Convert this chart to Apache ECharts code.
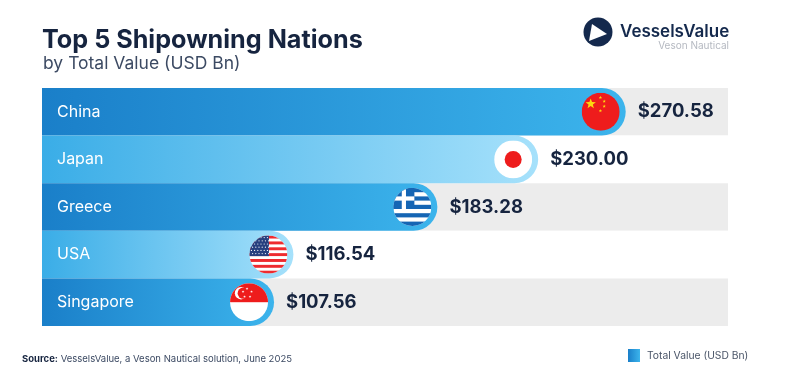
<!DOCTYPE html>
<html>
<head>
<meta charset="utf-8">
<title>Top 5 Shipowning Nations</title>
<style>
  html, body { margin: 0; padding: 0; background: #fff; }
  #chart { width: 794px; height: 379px; }
</style>
<script src="https://cdn.jsdelivr.net/npm/echarts@6/dist/echarts.min.js"></script>
</head>
<body>
<div id="chart"></div>
<script>
"use strict"

// chart data
const categories = ["China", "Japan", "Greece", "USA", "Singapore"];
const totalValue = [270.58, 230.00, 183.28, 116.54, 107.56];
const axisMax = 318;

// colours
const navy = "#16243f";
const darkGradient = ["#1a7fc9", "#3cb4ec"];
const lightGradient = ["#3aade7", "#a6e1fb"];

function gradient(stops) {
    return new echarts.graphic.LinearGradient(0, 0, 1, 0, [
        { offset: 0, color: stops[0] },
        { offset: 1, color: stops[1] }
    ]);
}

// flags are small svgs clipped to a circle
function flagSvg(body) {
    let svg = '<svg xmlns="http://www.w3.org/2000/svg" width="38" height="38" viewBox="0 0 38 38">' +
        '<defs><clipPath id="c"><circle cx="19" cy="19" r="19"/></clipPath></defs>' +
        '<g clip-path="url(#c)">' + body + '</g></svg>';
    return "data:image/svg+xml;charset=utf-8," + encodeURIComponent(svg);
}

function star(cx, cy, r, fill) {
    let pts = [];
    for (let i = 0; i < 10; i++) {
        let a = -Math.PI / 2 + i * Math.PI / 5;
        let d = i % 2 ? r * 0.42 : r;
        pts.push((cx + d * Math.cos(a)).toFixed(2) + "," + (cy + d * Math.sin(a)).toFixed(2));
    }
    return '<polygon points="' + pts.join(" ") + '" fill="' + fill + '"/>';
}

function usFlag() {
    let s = '<rect width="38" height="38" fill="#fff"/>';
    for (let i = 0; i < 7; i++) {
        s += '<rect y="' + (i * 5.85) + '" width="38" height="2.93" fill="#ee2b2f"/>';
    }
    s += '<rect width="19.5" height="20.5" fill="#27407f"/>';
    for (let r = 0; r < 6; r++) {
        for (let c = 0; c < 6; c++) {
            s += '<circle cx="' + (2 + c * 3.2 + (r % 2) * 1.2) + '" cy="' + (2 + r * 3.2) + '" r="0.6" fill="#fff"/>';
        }
    }
    return s;
}

const flags = [
    flagSvg('<rect width="38" height="38" fill="#ee1c1c"/>' + star(9, 11, 5.4, "#fbd90f") +
        star(18.7, 4.7, 1.8, "#fbd90f") + star(22.5, 8.5, 1.8, "#fbd90f") + star(22.5, 13.5, 1.8, "#fbd90f") + star(18.7, 18, 1.8, "#fbd90f")),
    flagSvg('<rect width="38" height="38" fill="#fff"/><circle cx="19" cy="19" r="8.5" fill="#ee1c1c"/>'),
    flagSvg('<rect width="38" height="38" fill="#fff"/>' +
        '<rect y="0" width="38" height="4.2" fill="#1565b4"/><rect y="8.4" width="38" height="4.2" fill="#1565b4"/>' +
        '<rect y="16.8" width="38" height="4.2" fill="#1565b4"/><rect y="25.2" width="38" height="4.2" fill="#1565b4"/>' +
        '<rect y="33.6" width="38" height="4.4" fill="#1565b4"/><rect width="21" height="21" fill="#1565b4"/>' +
        '<rect x="8.4" width="4.2" height="21" fill="#fff"/><rect y="8.4" width="21" height="4.2" fill="#fff"/>'),
    flagSvg(usFlag()),
    flagSvg('<rect width="38" height="38" fill="#fff"/><rect width="38" height="19" fill="#ee1c1c"/>' +
        '<circle cx="11" cy="10" r="6.2" fill="#fff"/><circle cx="13.2" cy="10" r="5.6" fill="#ee1c1c"/>' +
        star(17, 5.5, 1.4, "#fff") + star(21.5, 8.5, 1.4, "#fff") + star(20, 13.5, 1.4, "#fff") +
        star(14.5, 13.5, 1.4, "#fff") + star(13, 8.5, 1.4, "#fff"))
];

const myChart = echarts.init(document.getElementById("chart"), null, { renderer: "canvas" });

const barData = totalValue.map(function (v, i) {
    return {
        value: v,
        itemStyle: { color: gradient(i % 2 ? lightGradient : darkGradient) }
    };
});

const option = {
    animation: false,
    backgroundColor: "#fff",
    textStyle: { fontFamily: "Inter, 'Noto Sans', sans-serif" },
    title: [{
        text: "Top 5 Shipowning Nations",
        left: 37,
        top: 23,
        textStyle: { color: navy, fontSize: 25.2, fontWeight: 700, fontFamily: "Inter" }
    }, {
        text: "by Total Value (USD Bn)",
        left: 38,
        top: 50,
        textStyle: { color: "#3c4a63", fontSize: 17.5, fontWeight: 400, fontFamily: "Inter" }
    }, {
        text: "{b|Source:} VesselsValue, a Veson Nautical solution, June 2025",
        left: 17,
        top: 349,
        textStyle: {
            color: "#3c4a63",
            fontSize: 9.5,
            fontWeight: 400,
            fontFamily: "Inter",
            rich: {
                b: { color: navy, fontSize: 9.5, fontWeight: 700, fontFamily: "Inter" }
            }
        }
    }],
    legend: {
        data: ["Total Value (USD Bn)"],
        left: 628,
        top: 349,
        padding: 0,
        itemWidth: 12,
        itemHeight: 13,
        itemGap: 7,
        icon: "rect",
        textStyle: { color: "#4a5568", fontSize: 10.3, fontFamily: "Inter", padding: [0, 0, 0, 2] }
    },
    grid: { left: 42, right: 66, top: 88, bottom: 53 },
    xAxis: {
        type: "value",
        min: 0,
        max: axisMax,
        show: false
    },
    yAxis: [{
        type: "category",
        inverse: true,
        data: categories,
        axisLine: { show: false },
        axisTick: { show: false },
        axisLabel: { show: false },
        splitLine: { show: false },
        splitArea: { show: true, areaStyle: { color: ["#ececec", "#ffffff"] } }
    }, {
        // labels sit on their own axis so they draw over the bars
        type: "category",
        inverse: true,
        position: "left",
        data: categories,
        z: 5,
        axisLine: { show: false },
        axisTick: { show: false },
        splitLine: { show: false },
        axisLabel: {
            inside: true,
            margin: 15,
            color: "#ffffff",
            fontSize: 16,
            fontFamily: "Inter"
        }
    }],
    series: [{
        name: "Total Value (USD Bn)",
        type: "bar",
        data: barData,
        barWidth: "100%",
        itemStyle: { color: gradient(darkGradient), borderRadius: [0, 24, 24, 0] },
        label: {
            show: true,
            position: "right",
            distance: 12,
            color: navy,
            fontSize: 18.5,
            fontWeight: 700,
            fontFamily: "Inter",
            formatter: function (p) {
                return "$" + p.value.toFixed(2);
            }
        }
    }, {
        name: "Flags",
        type: "custom",
        z: 4,
        silent: true,
        data: totalValue.map(function (v, i) { return [v, i]; }),
        encode: { x: 0, y: 1 },
        renderItem: function (params, api) {
            let p = api.coord([api.value(0), api.value(1)]);
            return {
                type: "image",
                style: {
                    image: flags[params.dataIndex],
                    x: p[0] - 44,
                    y: p[1] - 19,
                    width: 38,
                    height: 38
                }
            };
        }
    }],
    graphic: [{
        type: "circle",
        shape: { cx: 598, cy: 32, r: 14.5 },
        style: { fill: "#14294d" }
    }, {
        type: "polygon",
        shape: { points: [[592, 24], [607, 34], [589, 41]] },
        style: { fill: "#ffffff" }
    }, {
        type: "text",
        style: {
            text: "VesselsValue",
            x: 620,
            y: 32,
            verticalAlign: "middle",
            fill: "#14294d",
            font: "600 17px Inter"
        }
    }, {
        type: "text",
        style: {
            text: "Veson Nautical",
            x: 729,
            y: 46,
            align: "right",
            verticalAlign: "middle",
            fill: "#b5b9c1",
            font: "400 10px Inter"
        }
    }]
};

myChart.setOption(option);
</script>
</body>
</html>
